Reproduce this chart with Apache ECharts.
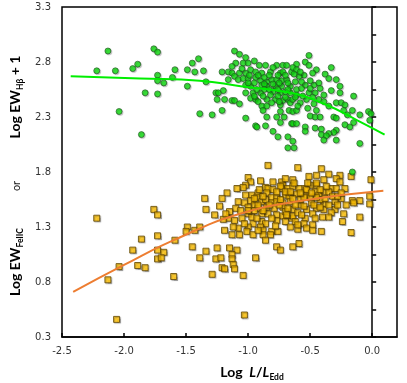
<!DOCTYPE html>
<html>
<head>
<meta charset="utf-8">
<script src="https://cdn.jsdelivr.net/npm/echarts@6/dist/echarts.min.js"></script>
<style>
  html, body { margin: 0; padding: 0; background: #fff; }
  #chart { width: 407px; height: 383px; }
</style>
</head>
<body>
<div id="chart"></div>
<script>
// Log EW(Hbeta)+1 vs log L/LEdd (green circles)
const hbX = [
  -2.13, -1.76, -1.73, -1.40, -2.22, -2.07, -1.89, -1.93, -1.59, -1.49, -1.45, -1.43, -1.73, -1.73, -1.68, -1.61,
  -1.49, -1.83, -1.73, -2.04, -1.86, -1.39,
  -1.36, -1.34, -1.29, -1.21, -1.26, -1.24, -1.25, -1.19, -1.20, -1.13, -1.11, -1.07, -1.02, -0.94, -0.93, -0.86,
  -1.11, -1.07, -1.02, -1.10, -1.04, -1.00, -0.95, -0.91, -0.86, -0.77, -0.72, -0.69, -1.13, -1.21, -1.16, -1.13,
  -1.11, -1.07, -1.02, -0.98, -0.94, -0.89, -0.82, -0.80, -0.74, -0.72, -0.65, -1.16, -1.08, -1.04, -1.00, -0.94,
  -0.90, -0.85, -0.81, -0.77, -0.73, -0.69, -1.02, -0.98, -0.89, -0.85, -0.78, -0.73, -0.66, -1.02, -0.96, -0.90,
  -0.80, -0.74, -0.70, -0.66, -0.98, -0.94, -0.92, -0.85, -0.78, -0.72, -0.68, -0.89, -0.85, -0.74, -0.66, -0.85,
  -0.77, -0.71, -0.74, -0.67, -0.74, -0.80, -0.76, -0.68, -0.68, -0.65,
  -0.51, -0.54, -0.51, -0.61, -0.64, -0.61, -0.45, -0.33, -0.48, -0.38, -0.35, -0.29, -0.55, -0.59, -0.54, -0.47,
  -0.43, -0.42, -0.26, -0.33, -0.26, -0.15, -0.61, -0.61, -0.51, -0.46, -0.39, -0.64, -0.53, -0.43, -0.39, -0.29,
  -0.25, -0.22, -0.52, -0.45, -0.23, -0.16, -0.03, -0.01, -0.64, -0.61, -0.10, -0.50, -0.46, -0.42, -0.31, -0.29,
  -0.20, -0.02, -0.64, -0.61, -0.22, -0.18, -0.15, -0.54, -0.46, -0.41, -0.29, -0.54, -0.31, -0.35, -0.41, -0.37,
  -0.39, -0.29, -0.10, -0.64, -0.63, -0.16,
  -1.05, -0.99, -0.92, -0.87, -0.83, -0.76, -0.70, -0.63, -0.58, -1.00, -0.95, -0.87, -0.80, -0.75, -0.68, -0.62,
  -0.57, -0.50, -0.93, -0.87, -0.83, -0.76, -0.68, -0.57, -0.50, -0.95, -0.88, -0.82, -0.76, -0.70, -0.62, -0.56,
  -0.48, -0.81, -0.75, -0.58, -0.47, -0.35, -0.88, -0.60
];
const hbY = [
  2.90, 2.92, 2.89, 2.83, 2.72, 2.72, 2.78, 2.74, 2.73, 2.73, 2.79, 2.71, 2.68, 2.63, 2.61, 2.66,
  2.58, 2.52, 2.51, 2.35, 2.14, 2.33,
  2.72, 2.62, 2.32, 2.36, 2.52, 2.52, 2.46, 2.46, 2.54, 2.45, 2.45, 2.42, 2.29, 2.22, 2.21, 2.22,
  2.90, 2.87, 2.84, 2.79, 2.79, 2.79, 2.81, 2.77, 2.77, 2.77, 2.77, 2.77, 2.76, 2.71, 2.71, 2.70,
  2.67, 2.70, 2.70, 2.73, 2.71, 2.70, 2.71, 2.75, 2.70, 2.71, 2.71, 2.64, 2.64, 2.65, 2.65, 2.66,
  2.63, 2.62, 2.64, 2.64, 2.63, 2.64, 2.59, 2.58, 2.59, 2.58, 2.58, 2.58, 2.58, 2.52, 2.52, 2.52,
  2.53, 2.52, 2.53, 2.52, 2.47, 2.46, 2.44, 2.46, 2.46, 2.45, 2.46, 2.40, 2.40, 2.41, 2.43, 2.30,
  2.30, 2.30, 2.35, 2.36, 2.25, 2.17, 2.12, 2.12, 2.02, 2.24,
  2.86, 2.80, 2.77, 2.78, 2.75, 2.73, 2.73, 2.75, 2.70, 2.69, 2.65, 2.64, 2.68, 2.67, 2.59, 2.59,
  2.61, 2.56, 2.58, 2.54, 2.52, 2.49, 2.55, 2.50, 2.52, 2.52, 2.50, 2.46, 2.46, 2.46, 2.44, 2.43,
  2.43, 2.41, 2.38, 2.36, 2.36, 2.36, 2.35, 2.33, 2.35, 2.36, 2.32, 2.31, 2.30, 2.30, 2.30, 2.29,
  2.32, 2.27, 2.24, 2.24, 2.23, 2.21, 2.25, 2.21, 2.20, 2.19, 2.18, 2.17, 2.16, 2.15, 2.14, 2.13,
  2.09, 2.09, 2.06, 2.08, 2.02, 1.80,
  2.74, 2.68, 2.68, 2.66, 2.68, 2.68, 2.68, 2.69, 2.71, 2.61, 2.61, 2.60, 2.60, 2.61, 2.61, 2.62,
  2.62, 2.63, 2.55, 2.55, 2.55, 2.55, 2.55, 2.56, 2.56, 2.49, 2.49, 2.50, 2.49, 2.48, 2.48, 2.49,
  2.48, 2.43, 2.44, 2.43, 2.42, 2.40, 2.36, 2.40
];

// Log EW(FeII C) vs log L/LEdd (orange squares)
const feX = [
  -2.22, -1.76, -1.73, -1.86, -1.73, -1.93, -1.73, -1.68, -1.59, -1.49, -1.50, -1.43, -1.39, -1.45, -1.39, -1.73,
  -1.70, -1.89, -1.83, -2.04, -2.13, -1.60, -2.06,
  -0.84, -1.00, -0.98, -0.90, -1.02, -1.04, -1.09, -0.86, -0.84, -0.80, -0.73, -0.72, -0.73, -0.68, -0.64, -1.17,
  -1.21, -1.35, -1.23, -1.34, -1.27, -1.02, -0.97, -0.92, -0.85, -0.93, -0.81, -0.77, -0.70, -0.67, -1.08, -1.03,
  -0.98, -0.95, -0.89, -0.81, -0.77, -0.72, -0.66, -1.00, -0.92, -0.85, -0.79, -0.72, -1.00, -0.97, -0.89, -0.84,
  -0.77, -0.72, -0.65, -1.16, -1.20, -1.11, -1.05, -0.96, -0.89, -0.86, -0.77, -0.70, -0.66, -1.08, -1.00, -0.90,
  -0.88, -1.13, -1.07, -1.01, -0.96, -0.88, -0.81, -0.76, -0.82, -1.19, -1.12,
  -0.60, -0.41, -0.35, -0.26, -0.17, -0.01, -0.51, -0.45, -0.39, -0.29, -0.26, -0.50, -0.45, -0.64, -0.59, -0.54,
  -0.33, -0.29, -0.22, -0.39, -0.35, -0.46, -0.61, -0.53, -0.43, -0.02, -0.25, -0.30, -0.16, -0.10, -0.49, -0.39,
  -0.58, -0.02, -0.21, -0.15, -0.45, -0.39, -0.30, -0.64, -0.53, -0.33, -0.23, -0.64, -0.54, -0.40, -0.10, -0.24,
  -0.55, -0.48, -0.53, -0.60, -0.48, -0.41, -0.17, -0.59,
  -1.34, -1.25, -1.15, -1.09, -1.13, -1.26, -1.22, -1.13, -0.94, -1.21, -1.19, -1.12, -1.11, -1.29, -1.04, -1.03,
  -0.77, -0.74, -0.64, -0.86,
  -0.80, -0.74, -0.63, -0.45, -0.37, -0.53, -0.95, -0.88, -0.60, -0.48, -0.70, -0.58, -0.42, -0.70, -0.86, -1.10,
  -1.15, -0.62, -0.50, -0.32,
  -1.06, -1.00, -0.92, -0.83, -0.75, -0.68, -0.62, -0.55, -0.47, -0.42, -0.35, -0.28, -0.95, -0.88, -0.74, -0.64,
  -0.55, -0.45, -0.38, -0.28, -0.91, -0.77, -0.66, -0.58, -0.49, -0.42, -0.25, -0.93, -0.81, -0.69, -0.57, -0.46,
  -0.35, -1.03, -0.92, -0.78, -0.60, -1.18, -0.52, -0.70
];
const feY = [
  1.38, 1.46, 1.41, 1.19, 1.22, 1.09, 1.09, 1.07, 1.18, 1.30, 1.26, 1.27, 1.30, 1.12, 1.02, 1.01,
  1.02, 0.95, 0.93, 0.94, 0.82, 0.85, 0.46,
  1.86, 1.75, 1.71, 1.72, 1.68, 1.66, 1.65, 1.66, 1.65, 1.64, 1.71, 1.68, 1.65, 1.65, 1.73, 1.61,
  1.56, 1.56, 1.49, 1.46, 1.41, 1.59, 1.59, 1.61, 1.61, 1.57, 1.57, 1.57, 1.59, 1.58, 1.53, 1.52,
  1.54, 1.50, 1.53, 1.52, 1.53, 1.52, 1.53, 1.48, 1.47, 1.48, 1.47, 1.48, 1.42, 1.39, 1.42, 1.42,
  1.41, 1.40, 1.38, 1.38, 1.37, 1.36, 1.38, 1.33, 1.35, 1.33, 1.36, 1.35, 1.30, 1.29, 1.30, 1.30,
  1.27, 1.23, 1.23, 1.26, 1.23, 1.23, 1.26, 1.26, 1.23, 1.27, 1.30,
  1.84, 1.83, 1.78, 1.77, 1.76, 1.73, 1.76, 1.77, 1.73, 1.74, 1.71, 1.68, 1.68, 1.67, 1.65, 1.65,
  1.65, 1.65, 1.65, 1.62, 1.62, 1.62, 1.60, 1.59, 1.59, 1.58, 1.56, 1.53, 1.54, 1.54, 1.52, 1.51,
  1.50, 1.51, 1.50, 1.52, 1.47, 1.46, 1.46, 1.46, 1.46, 1.43, 1.42, 1.40, 1.38, 1.39, 1.39, 1.35,
  1.33, 1.32, 1.29, 1.28, 1.27, 1.26, 1.25, 1.15,
  1.08, 1.11, 1.11, 1.09, 1.05, 1.01, 1.02, 1.01, 1.02, 0.93, 0.92, 0.96, 0.92, 0.87, 0.86, 0.50,
  1.12, 1.09, 1.12, 1.18,
  1.71, 1.67, 1.70, 1.70, 1.67, 1.64, 1.45, 1.45, 1.43, 1.42, 1.44, 1.55, 1.55, 1.62, 1.55, 1.47,
  1.44, 1.35, 1.57, 1.58,
  1.45, 1.45, 1.50, 1.50, 1.50, 1.47, 1.50, 1.49, 1.50, 1.48, 1.50, 1.50, 1.56, 1.58, 1.55, 1.56,
  1.57, 1.57, 1.56, 1.58, 1.64, 1.62, 1.62, 1.61, 1.61, 1.64, 1.61, 1.38, 1.38, 1.41, 1.41, 1.38,
  1.39, 1.33, 1.27, 1.31, 1.32, 1.42, 1.70, 1.74
];

// fitted trend curves
const hbFitX = [-2.43, -1.87, -1.39, -1.06, -0.66, -0.39, -0.12, 0.10];
const hbFitY = [2.67, 2.65, 2.63, 2.58, 2.52, 2.42, 2.27, 2.14];
const feFitX = [-2.41, -2.00, -1.60, -1.065, -0.53, 0.09];
const feFitY = [0.71, 0.955, 1.18, 1.42, 1.545, 1.63];

const xTicks = { min: -2.5, max: 0.2, step: 0.5 };
const yTicks = { min: 0.3, max: 3.3, step: 0.5 };

function zip(xs, ys) {
  return xs.map(function (x, i) { return [x, ys[i]]; });
}

const chart = echarts.init(document.getElementById('chart'));

const axisLine = { show: true, lineStyle: { color: '#000', width: 1.5 } };
const labelStyle = { color: '#333', fontFamily: 'DejaVu Sans', fontSize: 10 };
const titleFont = 'Lato';

chart.setOption({
  animation: false,
  grid: {
    left: 62, right: 10, top: 7, bottom: 46,
    show: true, borderColor: '#000', borderWidth: 1.5
  },
  xAxis: {
    type: 'value',
    min: xTicks.min, max: xTicks.max, interval: xTicks.step,
    axisLine: axisLine,
    axisTick: { show: true, inside: true, length: 4, lineStyle: { color: '#000', width: 1.5 } },
    splitLine: { show: false },
    axisLabel: Object.assign({}, labelStyle, {
      margin: 9, showMaxLabel: false,
      formatter: function (v) { return v.toFixed(1); }
    })
  },
  yAxis: {
    type: 'value',
    min: yTicks.min, max: yTicks.max, interval: yTicks.step,
    axisLine: axisLine,
    axisTick: { show: true, inside: true, length: 4, lineStyle: { color: '#000', width: 1.5 } },
    minorTick: { show: true, splitNumber: 2, length: 4, lineStyle: { color: '#000', width: 1.5 } },
    splitLine: { show: false },
    axisLabel: Object.assign({}, labelStyle, {
      margin: 11,
      formatter: function (v) { return v.toFixed(1); }
    })
  },
  graphic: [
    {
      type: 'text', x: 15, y: 97, rotation: Math.PI / 2,
      style: {
        text: '{b|Log EW}{s|Hβ}{b| + 1}',
        align: 'center', verticalAlign: 'middle',
        rich: {
          b: { fontFamily: titleFont, fontWeight: 'bold', fontSize: 14, color: '#000', lineHeight: 16 },
          s: { fontFamily: titleFont, fontWeight: 'bold', fontSize: 8.5, color: '#000', verticalAlign: 'bottom', padding: [0, 0, -2, 0] }
        }
      }
    },
    {
      type: 'text', x: 16, y: 186, rotation: Math.PI / 2,
      style: {
        text: 'or', align: 'center', verticalAlign: 'middle',
        fontFamily: titleFont, fontSize: 11, fill: '#222'
      }
    },
    {
      type: 'text', x: 15, y: 262, rotation: Math.PI / 2,
      style: {
        text: '{b|Log EW}{s|FeIIC}',
        align: 'center', verticalAlign: 'middle',
        rich: {
          b: { fontFamily: titleFont, fontWeight: 'bold', fontSize: 14, color: '#000', lineHeight: 16 },
          s: { fontFamily: titleFont, fontWeight: 'bold', fontSize: 8.5, color: '#000', verticalAlign: 'bottom', padding: [0, 0, -2, 0] }
        }
      }
    },
    {
      type: 'text', x: 252, y: 372,
      style: {
        text: '{b|Log  }{i|L}{b|/}{i|L}{s|Edd}',
        align: 'center', verticalAlign: 'middle',
        rich: {
          b: { fontFamily: titleFont, fontWeight: 'bold', fontSize: 14, color: '#000', lineHeight: 16 },
          i: { fontFamily: titleFont, fontWeight: 'bold', fontStyle: 'italic', fontSize: 14, color: '#000', lineHeight: 16 },
          s: { fontFamily: titleFont, fontWeight: 'bold', fontSize: 8.5, color: '#000', verticalAlign: 'bottom', padding: [0, 0, -2, 0] }
        }
      }
    }
  ],
  series: [
    {
      type: 'scatter',
      data: zip(feX, feY),
      symbol: 'rect',
      symbolSize: 6,
      itemStyle: {
        color: '#ffc000', borderColor: '#5c4300', borderWidth: 1,
        shadowColor: 'rgba(0,0,0,0.3)', shadowBlur: 1, shadowOffsetX: 1, shadowOffsetY: 1
      }
    },
    {
      type: 'scatter',
      data: zip(hbX, hbY),
      symbol: 'circle',
      symbolSize: 6,
      itemStyle: {
        color: '#10e010', borderColor: '#1f4a1f', borderWidth: 0.8,
        shadowColor: 'rgba(0,0,0,0.25)', shadowBlur: 1, shadowOffsetX: 1, shadowOffsetY: 1
      }
    },
    {
      type: 'line',
      data: zip(feFitX, feFitY),
      smooth: true,
      showSymbol: false,
      lineStyle: { color: '#ed7d31', width: 2 }
    },
    {
      type: 'line',
      data: zip(hbFitX, hbFitY),
      smooth: true,
      showSymbol: false,
      lineStyle: { color: '#00ee00', width: 2 }
    }
  ]
});
</script>
</body>
</html>
